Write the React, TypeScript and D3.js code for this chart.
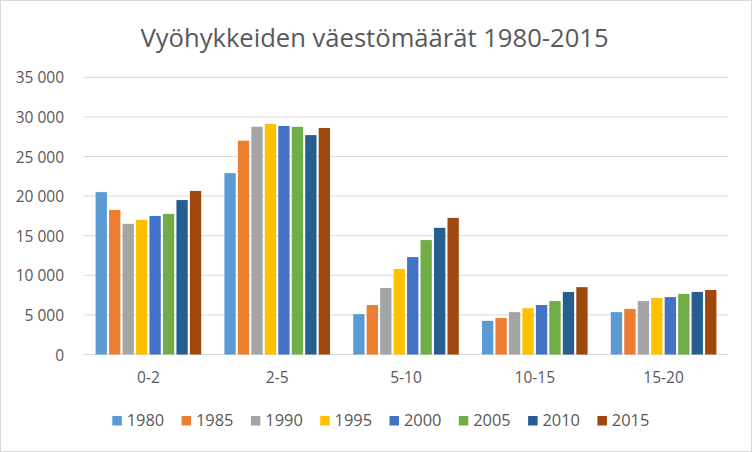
import React from "react";
import * as d3 from "d3";

const categories = ["0-2", "2-5", "5-10", "10-15", "15-20"];
const years = ["1980", "1985", "1990", "1995", "2000", "2005", "2010", "2015"];
const colors = ["#5B9BD5", "#ED7D31", "#A5A5A5", "#FFC000", "#4472C4", "#70AD47", "#255E91", "#9E480E"];
const v1980 = [20500, 22900, 5100, 4250, 5350];
const v1985 = [18250, 27000, 6250, 4600, 5750];
const v1990 = [16500, 28750, 8400, 5350, 6750];
const v1995 = [17000, 29100, 10800, 5850, 7150];
const v2000 = [17500, 28850, 12300, 6250, 7250];
const v2005 = [17750, 28750, 14450, 6750, 7650];
const v2010 = [19500, 27700, 16000, 7900, 7900];
const v2015 = [20650, 28600, 17250, 8500, 8150];
const series = [v1980, v1985, v1990, v1995, v2000, v2005, v2010, v2015];
const yTicks = [0, 5000, 10000, 15000, 20000, 25000, 30000, 35000];

const W = 752, H = 452;
const left = 84, right = 728, top = 77.3, bottom = 354.5;
const font = "'Open Sans', sans-serif";
const textColor = "#595959";

export default function App() {
  const x0 = d3.scaleBand().domain(categories).range([left, right]).paddingInner(0.18).paddingOuter(0.09);
  const x1 = d3.scaleBand().domain(years).range([0, x0.bandwidth()]).paddingInner(0.16);
  const y = d3.scaleLinear().domain([0, 35000]).range([bottom, top]);
  const fmt = (v: number) => d3.format(",")(v).replace(/,/g, " ");
  return (
    <svg width={W} height={H} style={{ position: "absolute", left: 0, top: 0, background: "#fff" }} fontFamily={font}>
      <rect x={0.5} y={0.5} width={W - 1} height={H - 1} fill="#fff" stroke="#d9d9d9" />
      <text x={374.5} y={47} textAnchor="middle" fontSize={25.6} fill={textColor}>Vyöhykkeiden väestömäärät 1980-2015</text>
      {yTicks.map(t => (
        <g key={t}>
          <line x1={left} x2={right} y1={y(t)} y2={y(t)} stroke="#d9d9d9" strokeWidth={1} />
          <text x={64} y={y(t) + 6} textAnchor="end" fontSize={15.5} fill={textColor}>{fmt(t)}</text>
        </g>
      ))}
      {categories.map((c, ci) => (
        <g key={c} transform={`translate(${x0(c)},0)`}>
          {years.map((yr, si) => (
            <rect key={yr} x={x1(yr)} y={y(series[si][ci])} width={x1.bandwidth()} height={bottom - y(series[si][ci])} fill={colors[si]} />
          ))}
        </g>
      ))}
      {categories.map(c => (
        <text key={c} x={(x0(c) as number) + x0.bandwidth() / 2} y={383} textAnchor="middle" fontSize={15.5} fill={textColor}>{c}</text>
      ))}
      {years.map((yr, i) => (
        <g key={yr} transform={`translate(${112.3 + i * 69.3},426)`}>
          <rect x={0} y={-10} width={9.5} height={9.5} fill={colors[i]} />
          <text x={14.4} y={0} fontSize={16.4} fill={textColor}>{yr}</text>
        </g>
      ))}
    </svg>
  );
}
